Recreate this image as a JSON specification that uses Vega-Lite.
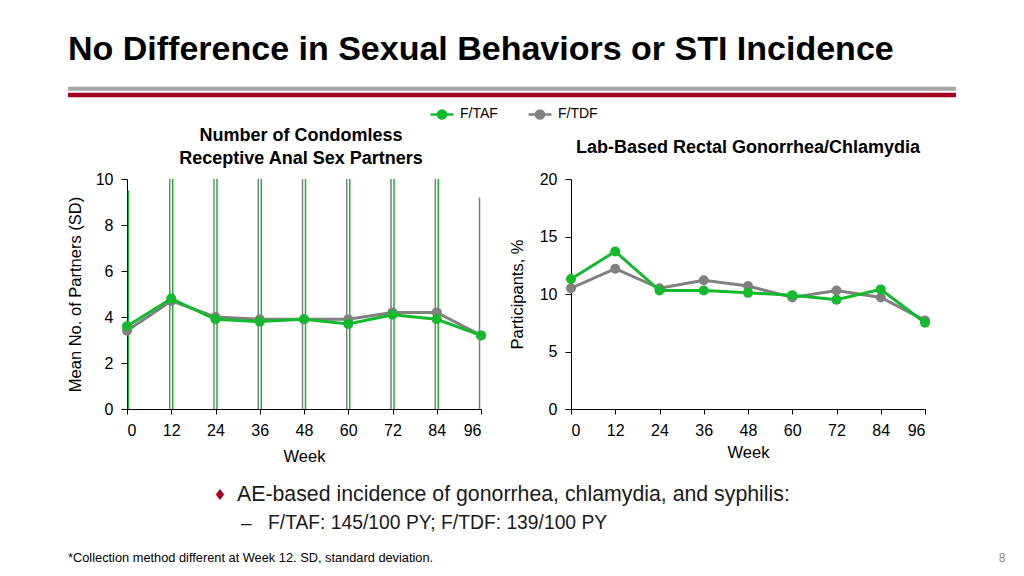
{
  "$schema": "https://vega.github.io/schema/vega-lite/v6.json",
  "background": "white",
  "padding": {"left": 65, "top": 33, "right": 0, "bottom": 0},
  "spacing": 0,
  "config": {
    "font": "Liberation Sans",
    "view": {"stroke": null},
    "axis": {
      "domainColor": "#000000",
      "tickColor": "#000000",
      "labelColor": "#000000",
      "titleColor": "#000000",
      "labelFont": "Liberation Sans",
      "titleFont": "Liberation Sans",
      "labelFontSize": 16,
      "titleFontSize": 16.5,
      "titleFontWeight": "normal",
      "grid": false,
      "tickSize": 6
    },
    "legend": {
      "orient": "none",
      "legendX": 302,
      "legendY": 17,
      "direction": "horizontal",
      "symbolType": "M-1,0L1,0M-0.35,0A0.35,0.35,0,1,0,0.35,0A0.35,0.35,0,1,0,-0.35,0",
      "symbolSize": 529,
      "symbolStrokeWidth": 2.5,
      "labelFontSize": 14,
      "labelFont": "Liberation Sans",
      "labelColor": "#000000",
      "columnPadding": 25,
      "labelOffset": 5
    }
  },
  "datasets": {
    "partners": [
      {"week": 0, "arm": "F/TDF", "mean": 3.4, "lo": -3.0, "hi": 9.8},
      {"week": 12, "arm": "F/TDF", "mean": 4.7, "lo": -8.0, "hi": 17.4},
      {"week": 24, "arm": "F/TDF", "mean": 4.0, "lo": -9.0, "hi": 17.0},
      {"week": 36, "arm": "F/TDF", "mean": 3.9, "lo": -8.0, "hi": 15.8},
      {"week": 48, "arm": "F/TDF", "mean": 3.9, "lo": -9.0, "hi": 16.8},
      {"week": 60, "arm": "F/TDF", "mean": 3.9, "lo": -8.0, "hi": 15.8},
      {"week": 72, "arm": "F/TDF", "mean": 4.2, "lo": -8.0, "hi": 16.4},
      {"week": 84, "arm": "F/TDF", "mean": 4.2, "lo": -9.0, "hi": 17.4},
      {"week": 96, "arm": "F/TDF", "mean": 3.2, "lo": -2.8, "hi": 9.2},
      {"week": 0, "arm": "F/TAF", "mean": 3.6, "lo": -2.3, "hi": 9.5},
      {"week": 12, "arm": "F/TAF", "mean": 4.8, "lo": -8.0, "hi": 17.6},
      {"week": 24, "arm": "F/TAF", "mean": 3.9, "lo": -9.0, "hi": 16.8},
      {"week": 36, "arm": "F/TAF", "mean": 3.8, "lo": -8.0, "hi": 15.6},
      {"week": 48, "arm": "F/TAF", "mean": 3.9, "lo": -9.0, "hi": 16.8},
      {"week": 60, "arm": "F/TAF", "mean": 3.7, "lo": -8.0, "hi": 15.4},
      {"week": 72, "arm": "F/TAF", "mean": 4.1, "lo": -8.0, "hi": 16.2},
      {"week": 84, "arm": "F/TAF", "mean": 3.9, "lo": -9.0, "hi": 16.8},
      {"week": 96, "arm": "F/TAF", "mean": 3.2, "lo": -2.5, "hi": 8.9}
    ],
    "sti": [
      {"week": 0, "arm": "F/TDF", "pct": 10.5},
      {"week": 12, "arm": "F/TDF", "pct": 12.2},
      {"week": 24, "arm": "F/TDF", "pct": 10.5},
      {"week": 36, "arm": "F/TDF", "pct": 11.2},
      {"week": 48, "arm": "F/TDF", "pct": 10.7},
      {"week": 60, "arm": "F/TDF", "pct": 9.7},
      {"week": 72, "arm": "F/TDF", "pct": 10.3},
      {"week": 84, "arm": "F/TDF", "pct": 9.7},
      {"week": 96, "arm": "F/TDF", "pct": 7.7},
      {"week": 0, "arm": "F/TAF", "pct": 11.3},
      {"week": 12, "arm": "F/TAF", "pct": 13.7},
      {"week": 24, "arm": "F/TAF", "pct": 10.3},
      {"week": 36, "arm": "F/TAF", "pct": 10.3},
      {"week": 48, "arm": "F/TAF", "pct": 10.1},
      {"week": 60, "arm": "F/TAF", "pct": 9.9},
      {"week": 72, "arm": "F/TAF", "pct": 9.5},
      {"week": 84, "arm": "F/TAF", "pct": 10.4},
      {"week": 96, "arm": "F/TAF", "pct": 7.5}
    ],
    "notes": [
      {"row": "diamond", "text": "♦"},
      {"row": "bullet", "text": "AE-based incidence of gonorrhea, chlamydia, and syphilis:"},
      {"row": "dash", "text": "–"},
      {"row": "sub", "text": "F/TAF: 145/100 PY; F/TDF: 139/100 PY"},
      {"row": "note", "text": "*Collection method different at Week 12. SD, standard deviation."},
      {"row": "page", "text": "8"}
    ]
  },
  "vconcat": [
    {
      "width": 829,
      "height": 43,
      "data": {"values": [{}]},
      "title": {
        "text": "No Difference in Sexual Behaviors or STI Incidence",
        "anchor": "start",
        "frame": "group",
        "dx": -59,
        "fontSize": 34,
        "fontWeight": "bold",
        "color": "#000000",
        "offset": 17
      },
      "layer": [
        {
          "mark": {"type": "rule", "color": "#A6A6A6", "strokeWidth": 4},
          "encoding": {
            "x": {"datum": -59, "type": "quantitative", "scale": {"domain": [0, 829], "nice": false, "zero": false}, "axis": null},
            "x2": {"datum": 829},
            "y": {"datum": 5, "type": "quantitative", "scale": {"domain": [0, 43], "reverse": true}, "axis": null}
          }
        },
        {
          "mark": {"type": "rule", "color": "#A50021", "strokeWidth": 4.5},
          "encoding": {
            "x": {"datum": -59, "type": "quantitative"},
            "x2": {"datum": 829},
            "y": {"datum": 11.5, "type": "quantitative"}
          }
        }
      ]
    },
    {
      "spacing": 22,
      "hconcat": [
        {
          "width": 354,
          "height": 230,
          "data": {"name": "partners"},
          "title": {
            "text": ["Number of Condomless", "Receptive Anal Sex Partners"],
            "fontSize": 18,
            "fontWeight": "bold",
            "lineHeight": 23,
            "offset": 3,
            "frame": "group",
            "anchor": "middle",
            "dx": -3,
            "color": "#000000"
          },
          "encoding": {
            "x": {
              "field": "week",
              "type": "quantitative",
              "scale": {"domain": [0, 96], "nice": false},
              "axis": {"values": [0, 12, 24, 36, 48, 60, 72, 84, 96], "title": "Week", "titlePadding": 10, "labelPadding": 8, "tickSize": 5}
            }
          },
          "layer": [
            {
              "transform": [{"filter": "datum.arm == 'F/TDF'"}],
              "mark": {"type": "rule", "strokeWidth": 1.5, "xOffset": -1.5, "clip": true},
              "encoding": {
                "y": {"field": "lo", "type": "quantitative", "scale": {"domain": [0, 10], "nice": false}, "title": "Mean No. of Partners (SD)",
                  "axis": {"values": [0, 2, 4, 6, 8, 10], "titlePadding": 12, "labelPadding": 8}},
                "y2": {"field": "hi"},
                "color": {"field": "arm", "type": "nominal", "scale": {"domain": ["F/TAF", "F/TDF"], "range": ["#14BA2E", "#808080"]}, "legend": {"title": null}}
              }
            },
            {
              "transform": [{"filter": "datum.arm == 'F/TAF'"}],
              "mark": {"type": "rule", "strokeWidth": 1.5, "xOffset": 1.5, "clip": true},
              "encoding": {
                "y": {"field": "lo", "type": "quantitative", "title": "Mean No. of Partners (SD)"},
                "y2": {"field": "hi"},
                "color": {"field": "arm", "type": "nominal", "legend": {"title": null}}
              }
            },
            {
              "transform": [{"filter": "datum.arm == 'F/TDF'"}],
              "mark": {"type": "line", "strokeWidth": 3, "point": {"filled": true, "size": 100, "opacity": 1}},
              "encoding": {
                "y": {"field": "mean", "type": "quantitative", "title": "Mean No. of Partners (SD)"},
                "color": {"field": "arm", "type": "nominal", "legend": {"title": null}}
              }
            },
            {
              "transform": [{"filter": "datum.arm == 'F/TAF'"}],
              "mark": {"type": "line", "strokeWidth": 3, "point": {"filled": true, "size": 100, "opacity": 1}},
              "encoding": {
                "y": {"field": "mean", "type": "quantitative", "title": "Mean No. of Partners (SD)"},
                "color": {"field": "arm", "type": "nominal", "legend": {"title": null}}
              }
            }
          ]
        },
        {
          "width": 354,
          "height": 230,
          "data": {"name": "sti"},
          "title": {
            "text": "Lab-Based Rectal Gonorrhea/Chlamydia",
            "fontSize": 18,
            "fontWeight": "bold",
            "offset": 14,
            "frame": "group",
            "anchor": "middle",
            "color": "#000000"
          },
          "encoding": {
            "x": {
              "field": "week",
              "type": "quantitative",
              "scale": {"domain": [0, 96], "nice": false},
              "axis": {"values": [0, 12, 24, 36, 48, 60, 72, 84, 96], "title": "Week", "titlePadding": 6, "labelPadding": 8, "tickSize": 5}
            },
            "y": {
              "field": "pct",
              "type": "quantitative",
              "scale": {"domain": [0, 20], "nice": false},
              "title": "Participants, %",
              "axis": {"values": [0, 5, 10, 15, 20], "titlePadding": 14, "labelPadding": 8}
            },
            "color": {"field": "arm", "type": "nominal", "legend": {"title": null}}
          },
          "layer": [
            {
              "transform": [{"filter": "datum.arm == 'F/TDF'"}],
              "mark": {"type": "line", "strokeWidth": 3, "point": {"filled": true, "size": 100, "opacity": 1}}
            },
            {
              "transform": [{"filter": "datum.arm == 'F/TAF'"}],
              "mark": {"type": "line", "strokeWidth": 3, "point": {"filled": true, "size": 100, "opacity": 1}}
            }
          ]
        }
      ]
    },
    {
      "width": 880,
      "height": 110,
      "data": {"name": "notes"},
      "encoding": {
        "text": {"field": "text"}
      },
      "layer": [
        {
          "transform": [{"filter": "datum.row == 'diamond'"}],
          "mark": {"type": "text", "align": "center", "baseline": "middle", "fontSize": 15, "color": "#A50021", "font": "DejaVu Sans"},
          "encoding": {
            "x": {"datum": 93, "type": "quantitative", "scale": {"domain": [0, 880], "nice": false, "zero": false}, "axis": null},
            "y": {"datum": 30, "type": "quantitative", "scale": {"domain": [0, 110], "nice": false, "reverse": true}, "axis": null}
          }
        },
        {
          "transform": [{"filter": "datum.row == 'bullet'"}],
          "mark": {"type": "text", "align": "left", "baseline": "middle", "fontSize": 21.3, "color": "#1A1A1A"},
          "encoding": {
            "x": {"datum": 110, "type": "quantitative"},
            "y": {"datum": 30, "type": "quantitative"}
          }
        },
        {
          "transform": [{"filter": "datum.row == 'dash'"}],
          "mark": {"type": "text", "align": "left", "baseline": "middle", "fontSize": 19, "color": "#1A1A1A"},
          "encoding": {
            "x": {"datum": 114, "type": "quantitative"},
            "y": {"datum": 58, "type": "quantitative"}
          }
        },
        {
          "transform": [{"filter": "datum.row == 'sub'"}],
          "mark": {"type": "text", "align": "left", "baseline": "middle", "fontSize": 19.3, "color": "#1A1A1A"},
          "encoding": {
            "x": {"datum": 141, "type": "quantitative"},
            "y": {"datum": 58, "type": "quantitative"}
          }
        },
        {
          "transform": [{"filter": "datum.row == 'note'"}],
          "mark": {"type": "text", "align": "left", "baseline": "middle", "fontSize": 12.8, "color": "#000000"},
          "encoding": {
            "x": {"datum": -59, "type": "quantitative"},
            "y": {"datum": 93, "type": "quantitative"}
          }
        },
        {
          "transform": [{"filter": "datum.row == 'page'"}],
          "mark": {"type": "text", "align": "center", "baseline": "middle", "fontSize": 12, "color": "#8C8C8C"},
          "encoding": {
            "x": {"datum": 875, "type": "quantitative"},
            "y": {"datum": 93, "type": "quantitative"}
          }
        }
      ]
    }
  ]
}
